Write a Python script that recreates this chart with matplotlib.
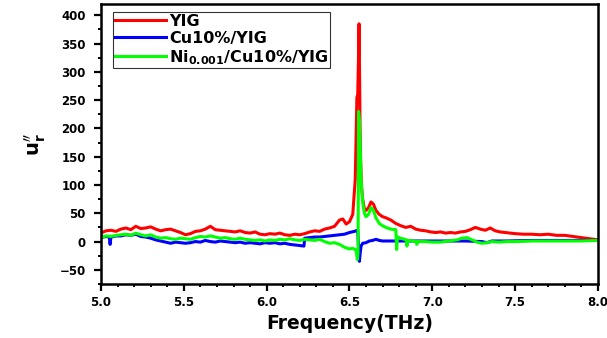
import numpy as np
import matplotlib.pyplot as plt

plt.rcParams['font.family'] = ['DejaVu Sans']
plt.rcParams['font.weight'] = 'bold'
plt.rcParams['mathtext.fontset'] = 'dejavusans'

# YIG
x_yig = [5.00, 5.03, 5.06, 5.09, 5.12, 5.15, 5.18, 5.21, 5.24, 5.27, 5.30, 5.33, 5.36, 5.39,
         5.42, 5.45, 5.48, 5.51, 5.54, 5.57, 5.60, 5.63, 5.66, 5.69, 5.72, 5.75, 5.78, 5.81,
         5.84, 5.87, 5.90, 5.93, 5.96, 5.99, 6.02, 6.05, 6.08, 6.11, 6.14, 6.17, 6.20, 6.23,
         6.26, 6.29, 6.32, 6.35, 6.38, 6.41, 6.44, 6.46, 6.48, 6.50, 6.52, 6.535, 6.545, 6.55,
         6.555, 6.558, 6.561, 6.564, 6.568, 6.572, 6.58, 6.59, 6.60, 6.615, 6.63, 6.645, 6.66,
         6.68, 6.70, 6.72, 6.75, 6.78, 6.81, 6.84, 6.87, 6.90, 6.93, 6.96, 6.99, 7.02, 7.05,
         7.08, 7.11, 7.14, 7.17, 7.20, 7.23, 7.26, 7.29, 7.32, 7.35, 7.38, 7.41, 7.44, 7.47,
         7.50, 7.55, 7.60, 7.65, 7.70, 7.75, 7.80, 7.85, 7.90, 7.95, 8.00]
y_yig = [15, 19, 20, 18, 22, 24, 21, 27, 23, 24, 26, 22, 19, 21,
         22, 19, 16, 12, 14, 18, 19, 22, 27, 21, 20, 19, 18, 17,
         19, 16, 15, 17, 13, 12, 14, 13, 15, 12, 11, 13, 12, 14,
         17, 19, 18, 22, 24, 27, 38, 40, 31, 35, 48, 110, 255, 260,
         330, 385, 300, 200, 140, 100, 75, 58, 55, 60, 70, 66, 55,
         48, 44, 42, 38, 32, 28, 25, 27, 22, 20, 19, 17, 16, 17,
         15, 16, 15, 17, 18, 21, 25, 22, 20, 24, 19, 17, 16, 15,
         14, 13, 13, 12, 13, 11, 11, 9, 7, 5, 3]

# Cu10%/YIG
x_cu = [5.00, 5.03, 5.05, 5.055, 5.06, 5.09, 5.12, 5.15, 5.18, 5.21, 5.24, 5.27, 5.30, 5.33,
        5.36, 5.39, 5.42, 5.45, 5.48, 5.51, 5.54, 5.57, 5.60, 5.63, 5.66, 5.69, 5.72, 5.75,
        5.78, 5.81, 5.84, 5.87, 5.90, 5.93, 5.96, 5.99, 6.02, 6.05, 6.08, 6.11, 6.14, 6.17,
        6.20, 6.225, 6.23, 6.26, 6.29, 6.32, 6.35, 6.38, 6.41, 6.44, 6.47, 6.50, 6.53, 6.55,
        6.555, 6.56, 6.565, 6.57, 6.58, 6.60, 6.62, 6.64, 6.66, 6.68, 6.70, 6.75, 6.80, 6.90,
        7.00, 7.10, 7.20, 7.30, 7.33, 7.36, 7.45, 7.60, 7.80, 8.00]
y_cu = [7, 9, 8, -5, 8, 10, 10, 12, 11, 13, 9, 8, 6, 3,
        1, -1, -3, -1, -2, -3, -2, 0, -1, 2, 0, -1, 1, 0,
        -1, -2, -1, -3, -2, -3, -4, -2, -3, -2, -4, -3, -5, -6,
        -7, -8, 6, 7, 8, 8, 9, 10, 11, 12, 13, 16, 18, 20,
        -10, -35, -20, -8, -3, -2, 1, 2, 4, 2, 1, 1, 1, 1,
        1, 1, 1, 0, -2, 1, 1, 2, 2, 2]

# Ni0.001/Cu10%/YIG
x_ni = [5.00, 5.03, 5.06, 5.09, 5.12, 5.15, 5.18, 5.21, 5.24, 5.27, 5.30, 5.33, 5.36, 5.39,
        5.42, 5.45, 5.48, 5.51, 5.54, 5.57, 5.60, 5.63, 5.66, 5.69, 5.72, 5.75, 5.78, 5.81,
        5.84, 5.87, 5.90, 5.93, 5.96, 5.99, 6.02, 6.05, 6.08, 6.11, 6.14, 6.17, 6.20, 6.23,
        6.26, 6.29, 6.32, 6.35, 6.38, 6.41, 6.44, 6.47, 6.50, 6.52, 6.54, 6.548, 6.552, 6.555,
        6.56, 6.565, 6.57, 6.58, 6.59, 6.60, 6.615, 6.63, 6.645, 6.66, 6.68, 6.70, 6.72, 6.75,
        6.78, 6.785, 6.79, 6.82, 6.845, 6.847, 6.85, 6.88, 6.905, 6.907, 6.91, 6.95, 7.00, 7.05,
        7.10, 7.15, 7.18, 7.21, 7.24, 7.27, 7.30, 7.33, 7.36, 7.40, 7.45, 7.50, 7.60, 7.70,
        7.80, 7.90, 8.00]
y_ni = [7, 10, 9, 11, 12, 13, 11, 15, 12, 10, 12, 8, 6, 7,
        5, 4, 6, 5, 4, 7, 9, 8, 10, 8, 6, 7, 5, 4,
        6, 4, 3, 2, 3, 1, 3, 2, 4, 3, 5, 3, 2, 4,
        3, 2, 4, 0, -3, -2, -5, -10, -13, -12, -15, -32, -20, 230,
        215, 170, 110, 70, 50, 44, 48, 60, 55, 42, 32, 28, 25, 22,
        21, -14, 8, 5, 3, -8, 2, 1, 0, -5, 0, 0, -1, -1,
        1, 3, 6, 7, 3, -1, -3, -2, 0, -1, 0, 0, 1, 1,
        1, 1, 2]

fig = plt.figure(figsize=(6.07, 3.38), dpi=100)
ax = fig.add_axes([0.1664, 0.1598, 0.8186, 0.8284])

ax.plot(x_yig, y_yig, color='#ff0000', lw=2.2, label='YIG')
ax.plot(x_cu, y_cu, color='#0000ff', lw=2.2, label='Cu10%/YIG')
ax.plot(x_ni, y_ni, color='#00ff00', lw=2.2, label=r'Ni$_{\mathbf{0.001}}$/Cu10%/YIG')

ax.set_xlim(5.0, 8.0)
ax.set_ylim(-75, 420)
ax.set_xticks(np.arange(5.0, 8.01, 0.5))
ax.set_xticks(np.arange(5.0, 8.01, 0.1), minor=True)
ax.set_yticks(np.arange(-50, 401, 50))
ax.set_yticks(np.arange(-75, 420, 25), minor=True)
ax.xaxis.set_major_formatter(plt.FormatStrFormatter('%.1f'))

for s in ax.spines.values():
    s.set_linewidth(1.8)
ax.tick_params(which='major', direction='out', length=5, width=1.6, labelsize=8.5, pad=4)
ax.tick_params(which='minor', direction='out', length=2.5, width=1.4)
ax.tick_params(axis='y', which='major', pad=6)

ax.set_xlabel('Frequency(THz)', fontsize=13.5, fontweight='bold', labelpad=3)
ax.set_ylabel(r'$\mathbf{u}_\mathbf{r}^{\prime\prime}$', fontsize=14, labelpad=8)

leg = ax.legend(loc='upper left', bbox_to_anchor=(0.024, 0.97), fontsize=11.5,
                frameon=True, fancybox=False, edgecolor='black', handlelength=3.2,
                labelspacing=0.12, borderpad=0.1, handletextpad=0.2, borderaxespad=0)
leg.get_frame().set_linewidth(0.8)

fig.savefig('out.png', dpi=100)
